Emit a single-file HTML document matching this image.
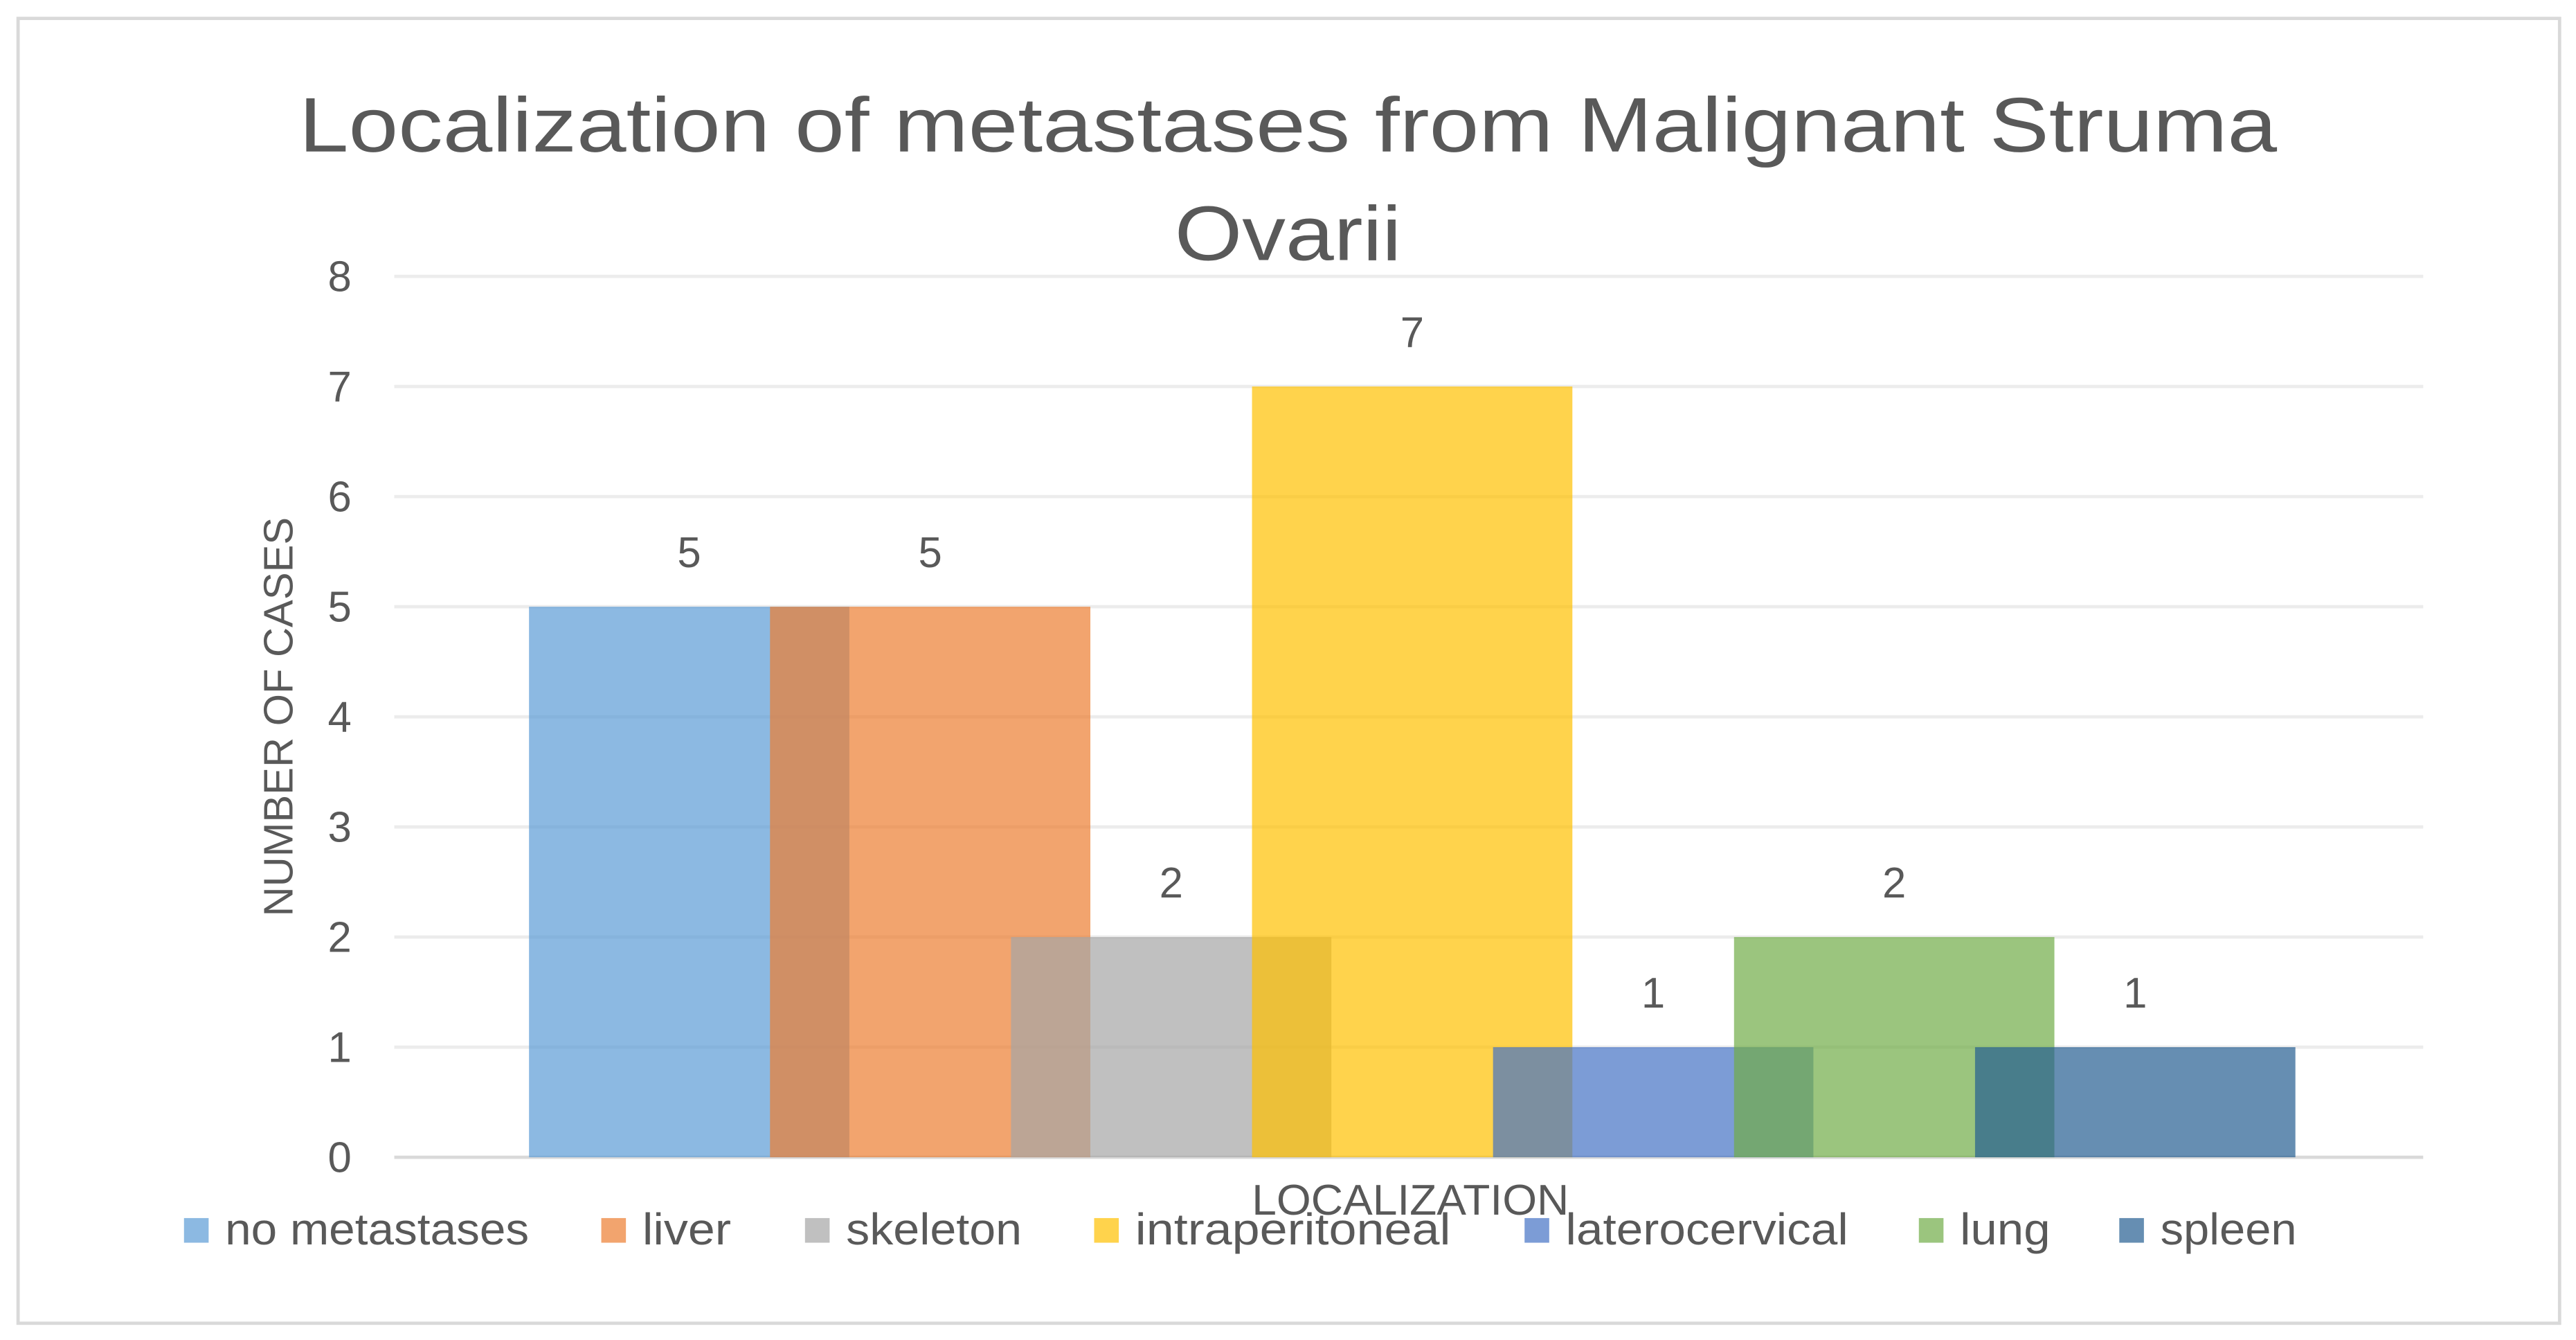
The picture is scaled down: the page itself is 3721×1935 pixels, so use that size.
<!DOCTYPE html>
<html>
<head>
<meta charset="utf-8">
<style>
html,body{margin:0;padding:0;background:#fff;}
svg{display:block;}
text{font-family:"Liberation Sans",sans-serif;fill:#595959;}
</style>
</head>
<body>
<svg id="chart" width="3721" height="1935" viewBox="0 0 1568 815" xmlns="http://www.w3.org/2000/svg">
<rect x="11" y="11" width="1547" height="794" fill="#fff" stroke="#d9d9d9" stroke-width="2"/>
<text x="182" y="92" font-size="47" textLength="1204" lengthAdjust="spacingAndGlyphs">Localization of metastases from Malignant Struma</text>
<text x="715" y="158" font-size="47" textLength="138" lengthAdjust="spacingAndGlyphs">Ovarii</text>
<g id="grid"></g>
<g id="bars"></g>
<g id="labels"></g>
<text transform="translate(178,436) rotate(-90)" font-size="25" text-anchor="middle" textLength="243" lengthAdjust="spacingAndGlyphs">NUMBER OF CASES</text>
<text x="762" y="739" font-size="26" textLength="193" lengthAdjust="spacingAndGlyphs">LOCALIZATION</text>
<g id="legend"></g>
</svg>
<script>
const categories = ["no metastases","liver","skeleton","intraperitoneal","laterocervical","lung","spleen"];
const values = [5,5,2,7,1,2,1];
const colors = ["#5b9bd5","#ed7d31","#a5a5a5","#ffc000","#4472c4","#70ad47","#255e91"];
const yTicks = [0,1,2,3,4,5,6,7,8];
const legendX = [112,366,490,666,928,1168,1290];
const legendW = [185,54,107,192,172,55,83];

const NS="http://www.w3.org/2000/svg";
const y0=704, yUnit=67;
const yScale=v=>y0-v*yUnit;
const xCenter=i=>419.5+146.7*i;
const barW=195;
function mk(tag,attrs,parent){const e=document.createElementNS(NS,tag);for(const k in attrs)e.setAttribute(k,attrs[k]);parent.appendChild(e);return e;}
const grid=document.getElementById('grid'),bars=document.getElementById('bars'),labels=document.getElementById('labels'),legend=document.getElementById('legend');
yTicks.forEach(t=>{
  const l=mk('line',{x1:240,x2:1475,y1:yScale(t),y2:yScale(t),stroke:t===0?'#d9d9d9':'#ececec','stroke-width':2},grid);
  
  
  const tx=mk('text',{x:214,y:yScale(t)+9,'font-size':26,'text-anchor':'end'},grid);
  tx.textContent=t;
  
  
});
categories.forEach((c,i)=>{
  const r=mk('rect',{x:xCenter(i)-barW/2,y:yScale(values[i]),width:barW,height:values[i]*yUnit,fill:colors[i],'fill-opacity':0.7},bars);
  
  
  const t=mk('text',{x:xCenter(i),y:yScale(values[i])-24,'font-size':26,'text-anchor':'middle'},labels);
  t.textContent=values[i];
  
  
  const sq=mk('rect',{x:legendX[i],y:741,width:15,height:15,fill:colors[i],'fill-opacity':0.7},legend);
  
  
  const lt=mk('text',{x:legendX[i]+25,y:757,'font-size':27,textLength:legendW[i],lengthAdjust:'spacingAndGlyphs'},legend);
  lt.textContent=c;
  
  
});
</script>
</body>
</html>
